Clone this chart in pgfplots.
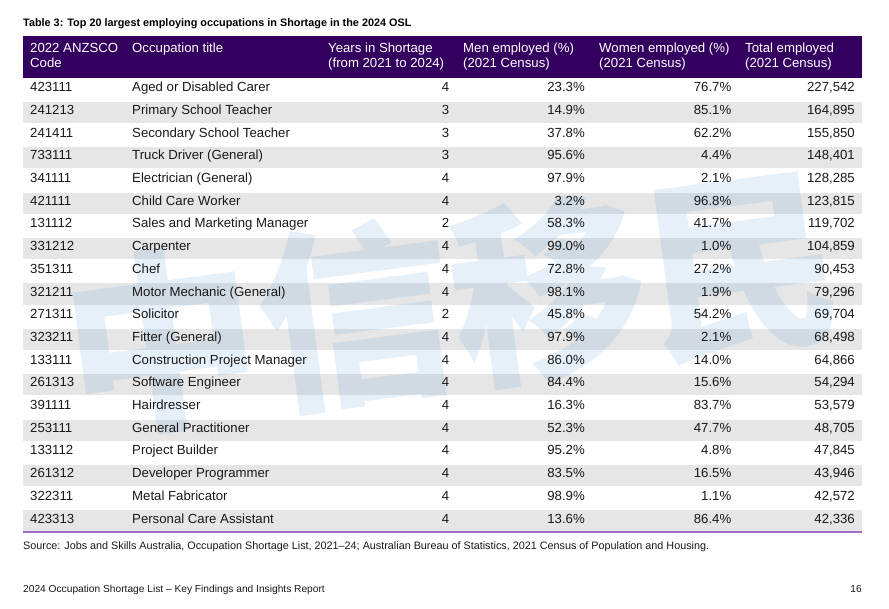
\documentclass[border=0pt]{standalone}
\usepackage{pgfplots}
\pgfplotsset{compat=1.18}
\usepackage{pgfplotstable}
\usepackage{fontspec}
\setmainfont{Liberation Sans}
\newfontfamily\cjk{Noto Sans CJK SC}
\definecolor{hdr}{RGB}{52,0,96}
\definecolor{rowgrey}{RGB}{230,230,230}
\definecolor{rulec}{RGB}{160,110,200}
\definecolor{wm}{RGB}{60,140,210}
\definecolor{txt}{RGB}{25,25,25}

\pgfplotstableread[col sep=semicolon]{
row;code;title;years;men;women;total
1;423111;Aged or Disabled Carer;4;23.3;76.7;227542
2;241213;Primary School Teacher;3;14.9;85.1;164895
3;241411;Secondary School Teacher;3;37.8;62.2;155850
4;733111;Truck Driver (General);3;95.6;4.4;148401
5;341111;Electrician (General);4;97.9;2.1;128285
6;421111;Child Care Worker;4;3.2;96.8;123815
7;131112;Sales and Marketing Manager;2;58.3;41.7;119702
8;331212;Carpenter;4;99.0;1.0;104859
9;351311;Chef;4;72.8;27.2;90453
10;321211;Motor Mechanic (General);4;98.1;1.9;79296
11;271311;Solicitor;2;45.8;54.2;69704
12;323211;Fitter (General);4;97.9;2.1;68498
13;133111;Construction Project Manager;4;86.0;14.0;64866
14;261313;Software Engineer;4;84.4;15.6;54294
15;391111;Hairdresser;4;16.3;83.7;53579
16;253111;General Practitioner;4;52.3;47.7;48705
17;133112;Project Builder;4;95.2;4.8;47845
18;261312;Developer Programmer;4;83.5;16.5;43946
19;322311;Metal Fabricator;4;98.9;1.1;42572
20;423313;Personal Care Assistant;4;13.6;86.4;42336
}\occ

\newcommand{\bodyfont}{\fontsize{13.2}{15}\selectfont}

\begin{document}
\begin{tikzpicture}
\begin{axis}[x=1pt,y=1pt,y dir=reverse,
  xmin=0,xmax=889,ymin=0,ymax=608,
  hide axis,clip=false,
  every node near coord/.append style={inner sep=0pt,text=txt,font=\bodyfont}]

\path (axis cs:0,0) rectangle (axis cs:889,608);

% alternating grey rows
\pgfplotsinvokeforeach{2,4,6,8,10,12,14,16,18,20}{
  \fill[rowgrey] (axis cs:23,{78+22.7*(#1-1)+1}) rectangle (axis cs:862,{78+22.7*#1-0.5});
}

% watermark
\node[rotate=7.5,text=wm,opacity=0.13,inner sep=0pt,
  font=\cjk\bfseries\fontsize{195}{195}\selectfont] at (axis cs:452,303) {中信移民};

% header
\fill[hdr] (axis cs:23,36) rectangle (axis cs:862,78);
\draw[rulec,line width=1.5pt] (axis cs:23,532) -- (axis cs:862,532);

\begin{scope}[every node/.style={anchor=base west,inner sep=0pt,text=white,font=\bodyfont}]
\node at (axis cs:30,52) {2022 ANZSCO};
\node at (axis cs:30,67.5) {Code};
\node at (axis cs:132,52) {Occupation title};
\node at (axis cs:328,52) {Years in Shortage};
\node at (axis cs:328,67.5) {(from 2021 to 2024)};
\node at (axis cs:463,52) {Men employed (\%)};
\node at (axis cs:463,67.5) {(2021 Census)};
\node at (axis cs:599,52) {Women employed (\%)};
\node at (axis cs:599,67.5) {(2021 Census)};
\node at (axis cs:745,52) {Total employed};
\node at (axis cs:745,67.5) {(2021 Census)};
\end{scope}

% data columns
\addplot[only marks,mark=none,nodes near coords,point meta=explicit symbolic,
  every node near coord/.append style={anchor=base west}]
  table[x expr=30,y expr={91.7+22.7*(\thisrow{row}-1)},meta=code]{\occ};
\addplot[only marks,mark=none,nodes near coords,point meta=explicit symbolic,
  every node near coord/.append style={anchor=base west}]
  table[x expr=132,y expr={91.7+22.7*(\thisrow{row}-1)},meta=title]{\occ};
\addplot[only marks,mark=none,point meta=explicit,
  nodes near coords={\pgfmathprintnumber[assume math mode=true,fixed,precision=0]{\pgfplotspointmeta}},
  every node near coord/.append style={anchor=base east}]
  table[x expr=449.5,y expr={91.7+22.7*(\thisrow{row}-1)},meta=years]{\occ};
\addplot[only marks,mark=none,point meta=explicit,
  nodes near coords={\pgfmathprintnumber[assume math mode=true,fixed,fixed zerofill,precision=1]{\pgfplotspointmeta}\%},
  every node near coord/.append style={anchor=base east}]
  table[x expr=585,y expr={91.7+22.7*(\thisrow{row}-1)},meta=men]{\occ};
\addplot[only marks,mark=none,point meta=explicit,
  nodes near coords={\pgfmathprintnumber[assume math mode=true,fixed,fixed zerofill,precision=1]{\pgfplotspointmeta}\%},
  every node near coord/.append style={anchor=base east}]
  table[x expr=731.5,y expr={91.7+22.7*(\thisrow{row}-1)},meta=women]{\occ};
\addplot[only marks,mark=none,point meta=explicit,
  nodes near coords={\pgfmathprintnumber[assume math mode=true,fixed,precision=0,1000 sep={,}]{\pgfplotspointmeta}},
  every node near coord/.append style={anchor=base east}]
  table[x expr=855,y expr={91.7+22.7*(\thisrow{row}-1)},meta=total]{\occ};

% titles and notes
\node[anchor=base west,inner sep=0pt,text=black,font=\bfseries\fontsize{10.85}{12}\selectfont]
  at (axis cs:23,26) {Table 3: Top 20 largest employing occupations in Shortage in the 2024 OSL};
\node[anchor=base west,inner sep=0pt,text=txt,font=\fontsize{10.8}{12}\selectfont]
  at (axis cs:23,549) {Source: Jobs and Skills Australia, Occupation Shortage List, 2021–24; Australian Bureau of Statistics, 2021 Census of Population and Housing.};
\node[anchor=base west,inner sep=0pt,text=txt,font=\fontsize{10.2}{11}\selectfont]
  at (axis cs:23,592.5) {2024 Occupation Shortage List – Key Findings and Insights Report};
\node[anchor=base east,inner sep=0pt,text=txt,font=\fontsize{10.2}{11}\selectfont]
  at (axis cs:862,592.5) {16};
\end{axis}
\end{tikzpicture}
\end{document}
